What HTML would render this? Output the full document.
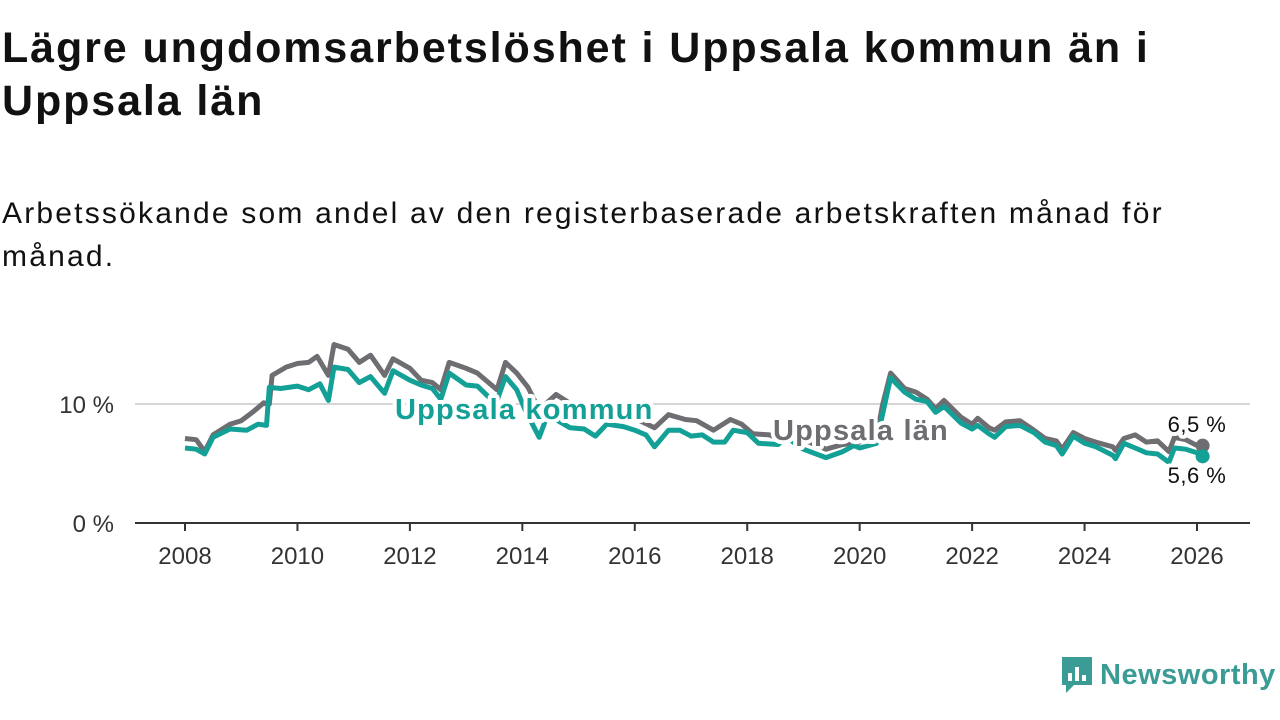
<!DOCTYPE html>
<html><head><meta charset="utf-8"><style>
body{margin:0;width:1280px;height:720px;background:#fff;font-family:"Liberation Sans","DejaVu Sans",sans-serif;overflow:hidden;position:relative}
h1{position:absolute;left:2px;top:22px;margin:0;font-size:43px;line-height:53px;font-weight:bold;color:#111;width:1270px;letter-spacing:1.9px}
.sub{position:absolute;left:2px;top:192px;margin:0;font-size:30px;line-height:43px;color:#111;width:1270px;letter-spacing:2.2px}
</style></head><body>
<h1>Lägre ungdomsarbetslöshet i Uppsala kommun än i<br>Uppsala län</h1>
<p class="sub">Arbetssökande som andel av den registerbaserade arbetskraften månad för<br>månad.</p>
<svg id="chart" width="1280" height="720" style="position:absolute;left:0;top:0" xmlns="http://www.w3.org/2000/svg"></svg>
<div style="position:absolute;left:1060px;top:655px;display:flex;align-items:center">
<svg width="34" height="40" viewBox="0 0 34 40"><path d="M2 2h30v28H14l-8 8v-8H2z" fill="#3a9c94"/><rect x="8" y="18" width="4" height="8" fill="#fff"/><rect x="15" y="12" width="4" height="14" fill="#fff"/><rect x="22" y="20" width="4" height="6" fill="#fff"/></svg>
<span style="font-size:29px;font-weight:bold;color:#3a9c94;margin-left:6px;letter-spacing:0.5px">Newsworthy</span></div>
<script>
const xTicks=[2008,2010,2012,2014,2016,2018,2020,2022,2024,2026];
const yTicks=[0,10];
const komDates=[2008.0,2008.2,2008.35,2008.5,2008.8,2009.1,2009.3,2009.45,2009.5,2009.7,2010.0,2010.2,2010.4,2010.55,2010.65,2010.9,2011.1,2011.3,2011.55,2011.7,2012.0,2012.2,2012.4,2012.55,2012.7,2013.0,2013.2,2013.4,2013.55,2013.7,2013.9,2014.05,2014.3,2014.45,2014.85,2015.1,2015.3,2015.5,2015.8,2016.0,2016.2,2016.35,2016.6,2016.8,2017.0,2017.2,2017.4,2017.6,2017.75,2018.0,2018.2,2018.55,2018.7,2019.0,2019.4,2019.7,2019.9,2020.0,2020.3,2020.4,2020.55,2020.8,2021.0,2021.2,2021.35,2021.5,2021.8,2022.0,2022.1,2022.3,2022.4,2022.6,2022.85,2023.1,2023.3,2023.5,2023.6,2023.8,2024.0,2024.2,2024.5,2024.55,2024.7,2024.9,2025.1,2025.3,2025.5,2025.6,2025.8,2026.0,2026.1];
const komVals=[6.3,6.2,5.8,7.2,7.9,7.8,8.3,8.2,11.4,11.3,11.5,11.2,11.7,10.3,13.1,12.9,11.8,12.3,10.9,12.8,12.0,11.6,11.3,10.4,12.6,11.6,11.5,10.6,10.3,12.3,11.2,9.5,7.2,9.1,8.0,7.9,7.3,8.3,8.1,7.8,7.4,6.4,7.8,7.8,7.3,7.4,6.8,6.8,7.8,7.6,6.7,6.6,7.2,6.2,5.5,6.0,6.5,6.3,6.7,9.0,12.2,11.0,10.4,10.2,9.3,9.8,8.4,7.9,8.2,7.5,7.2,8.1,8.2,7.6,6.8,6.5,5.8,7.3,6.7,6.4,5.7,5.4,6.7,6.3,5.9,5.8,5.1,6.3,6.2,5.9,5.6];
const lanDates=[2008.0,2008.2,2008.35,2008.5,2008.8,2009.0,2009.2,2009.4,2009.5,2009.55,2009.8,2010.0,2010.2,2010.35,2010.55,2010.65,2010.9,2011.1,2011.3,2011.55,2011.7,2012.0,2012.2,2012.4,2012.55,2012.7,2013.0,2013.2,2013.4,2013.55,2013.7,2013.9,2014.1,2014.3,2014.6,2015.0,2015.5,2016.0,2016.35,2016.6,2016.9,2017.1,2017.4,2017.7,2017.9,2018.1,2018.4,2018.55,2018.8,2019.1,2019.4,2019.7,2020.0,2020.3,2020.4,2020.55,2020.8,2021.0,2021.2,2021.35,2021.5,2021.8,2022.0,2022.1,2022.3,2022.4,2022.6,2022.85,2023.1,2023.3,2023.5,2023.6,2023.8,2024.0,2024.2,2024.5,2024.55,2024.7,2024.9,2025.1,2025.3,2025.5,2025.6,2025.8,2026.0,2026.1];
const lanVals=[7.1,7.0,6.0,7.4,8.3,8.6,9.3,10.1,10.0,12.4,13.1,13.4,13.5,14.0,12.4,15.0,14.6,13.5,14.1,12.4,13.8,13.0,12.0,11.8,11.2,13.5,13.0,12.6,11.8,11.2,13.5,12.6,11.4,9.5,10.8,9.6,9.2,8.8,8.0,9.1,8.7,8.6,7.8,8.7,8.3,7.5,7.4,7.1,7.5,6.8,6.2,6.6,6.8,7.1,9.8,12.6,11.3,11.0,10.4,9.6,10.3,8.9,8.3,8.8,8.0,7.8,8.5,8.6,7.8,7.1,6.9,6.2,7.6,7.1,6.8,6.4,6.1,7.1,7.4,6.8,6.9,6.0,7.2,7.0,6.5,6.5];
const NS='http://www.w3.org/2000/svg';
const svg=document.getElementById('chart');
const X=y=>185+(y-2008)*(1197-185)/18;
const Y=v=>523-v*11.9;
function mk(t,a,txt){const e=document.createElementNS(NS,t);for(const k in a)e.setAttribute(k,a[k]);if(txt!=null)e.textContent=txt;svg.appendChild(e);return e;}
yTicks.forEach(v=>{
 if(v>0){const g=mk('line',{x1:135,x2:1250,y1:Y(v),y2:Y(v),stroke:'#d6d6d6','stroke-width':2});
 
 }
 const t=mk('text',{x:114,y:Y(v)+9,'text-anchor':'end','font-size':24,fill:'#333'},v+' %');
 
 
});
const ax=mk('line',{x1:135,x2:1250,y1:523,y2:523,stroke:'#333','stroke-width':2});


xTicks.forEach(yr=>{
 const l=mk('line',{x1:X(yr),x2:X(yr),y1:523,y2:531,stroke:'#333','stroke-width':2});
 
 
 const t=mk('text',{x:X(yr),y:564,'text-anchor':'middle','font-size':24,fill:'#333'},String(yr));
 
 
});
function line(d,v,c,name){
 const p=d.map((x,i)=>(i?'L':'M')+X(x).toFixed(1)+' '+Y(v[i]).toFixed(1)).join(' ');
 const e=mk('path',{d:p,fill:'none',stroke:c,'stroke-width':5,'stroke-linejoin':'round'});
 
 
 const n=d.length-1;
 const dot=mk('circle',{cx:X(d[n]),cy:Y(v[n]),r:7,fill:c});
 
 
}
line(lanDates,lanVals,'#6e6d72','line-uppsala-lan');
line(komDates,komVals,'#13a096','line-uppsala-kommun');
function lab(x,y,txt,c,name,anchor,size,w,ls){
 const h=mk('text',{x:x,y:y,'font-size':size,'font-weight':w,fill:'#fff',stroke:'#fff','stroke-width':8,'stroke-linejoin':'round','text-anchor':anchor,'letter-spacing':ls},txt);
 
 
 const t=mk('text',{x:x,y:y,'font-size':size,'font-weight':w,fill:c,'text-anchor':anchor,'letter-spacing':ls},txt);
 
 
}
lab(395,419,'Uppsala kommun','#13a096','label-uppsala-kommun','start',29,'bold',1.2);
lab(773,440,'Uppsala län','#6e6d72','label-uppsala-lan','start',29,'bold',1.2);
lab(1197,432,lanVals[lanVals.length-1].toFixed(1).replace('.',',')+' %','#111','value-label-lan','middle',22,'normal',0.5);
lab(1197,483,komVals[komVals.length-1].toFixed(1).replace('.',',')+' %','#111','value-label-kommun','middle',22,'normal',0.5);
</script>
</body></html>
